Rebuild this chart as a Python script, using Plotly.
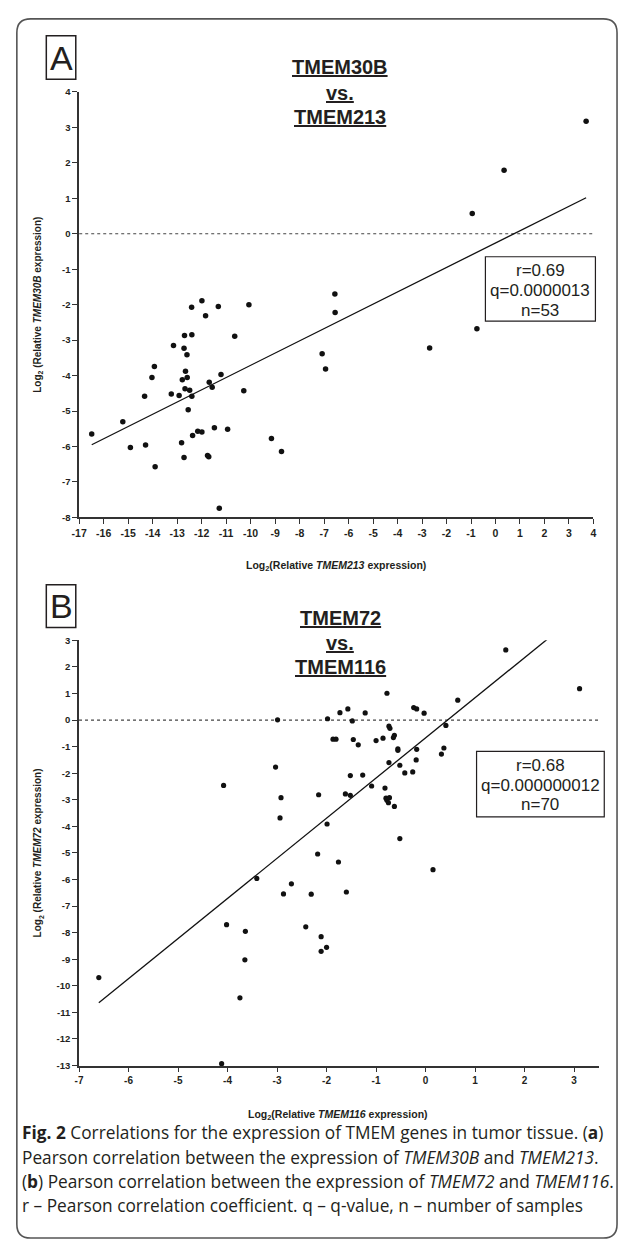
import plotly.graph_objects as go

# ---------------- data ----------------
# Panel A: TMEM213 (x) vs TMEM30B (y), log2 relative expression
a_x = [-16.49, -15.22, -14.91, -14.33, -14.29, -14.03, -13.93, -13.90, -13.24, -13.15,
       -12.92, -12.79, -12.82, -12.72, -12.72, -12.70, -12.68, -12.66, -12.60, -12.59,
       -12.55, -12.49, -12.41, -12.40, -12.40, -12.37, -12.16, -11.99, -11.99, -11.84,
       -11.76, -11.71, -11.69, -11.57, -11.48, -11.32, -11.28, -11.21, -10.94, -10.65,
       -10.28, -10.07, -9.15, -8.74,
       0.35, -0.95, -6.56, -6.55, -0.76, -2.69, -7.08, -6.94, 3.70]
a_y = [-5.65, -5.30, -6.03, -4.58, -5.96, -4.05, -3.74, -6.57, -4.52, -3.15,
       -4.56, -4.12, -5.89, -3.23, -6.31, -2.87, -4.37, -3.88, -3.41, -4.05,
       -4.96, -4.41, -2.07, -2.85, -4.58, -5.69, -5.57, -1.89, -5.59, -2.31,
       -6.25, -6.29, -4.19, -4.33, -5.47, -2.05, -7.74, -3.97, -5.51, -2.89,
       -4.43, -2.00, -5.77, -6.14,
       1.79, 0.57, -1.70, -2.22, -2.68, -3.22, -3.38, -3.81, 3.17]
a_fit_slope = 0.345
a_fit_intercept = -0.26
a_stats = ["r=0.69", "q=0.0000013", "n=53"]
a_xticks = list(range(-17, 5))
a_yticks = list(range(-8, 5))

# Panel B: TMEM116 (x) vs TMEM72 (y), log2 relative expression
b_x = [-6.60, -4.08, -4.02, -3.75, -3.64, -3.65, -3.41, -3.03, -2.99, -2.92,
       -2.94, -2.87, -2.71, -2.31, -2.42, -2.18, -2.16, -2.11, -2.11,
       1.62, 3.11, -0.78, 0.65, -0.24, -0.18, -0.03, -1.57, -1.73, -1.22,
       -1.98, -1.48, -0.74, -0.72, 0.41, -0.63, -0.65, -1.87, -1.81, -1.46,
       -1.36, -1.00, -0.86, -0.56, -0.56, -0.18, 0.37, 0.32, -0.19, -0.74,
       -0.52, -0.26, -0.42, -1.52, -1.27, -1.09, -0.82, -1.62, -1.52, -0.80,
       -0.73, -0.78, -0.75, -0.63, -1.99, -0.52, -1.76, 0.15, -1.60,
       -4.12, -2.00]
b_y = [-9.69, -2.46, -7.70, -10.45, -7.95, -9.02, -5.96, -1.77, 0.01, -2.92,
       -3.68, -6.54, -6.16, -6.55, -7.78, -5.04, -2.81, -8.15, -8.70,
       2.64, 1.18, 1.01, 0.75, 0.47, 0.42, 0.26, 0.42, 0.28, 0.27,
       0.05, -0.03, -0.23, -0.31, -0.20, -0.57, -0.66, -0.72, -0.72, -0.73,
       -0.93, -0.77, -0.68, -1.08, -1.14, -1.10, -1.05, -1.28, -1.50, -1.60,
       -1.70, -1.95, -1.99, -2.09, -2.07, -2.48, -2.56, -2.78, -2.83, -2.94,
       -2.92, -3.02, -3.11, -3.25, -3.91, -4.46, -5.34, -5.63, -6.47,
       -12.93, -8.55]
b_fit_slope = 1.51
b_fit_intercept = -0.67
b_stats = ["r=0.68", "q=0.000000012", "n=70"]
b_xticks = list(range(-7, 4))
b_yticks = list(range(-13, 4))

a_title = ["TMEM30B", "vs.", "TMEM213"]
b_title = ["TMEM72", "vs.", "TMEM116"]
a_xtitle = "Log<sub>2</sub>(Relative <i>TMEM213</i> expression)"
a_ytitle = "Log<sub>2</sub> (Relative <i>TMEM30B</i> expression)"
b_xtitle = "Log<sub>2</sub>(Relative <i>TMEM116</i> expression)"
b_ytitle = "Log<sub>2</sub> (Relative <i>TMEM72</i> expression)"
caption = [
    "<b>Fig. 2</b> Correlations for the expression of TMEM genes in tumor tissue. (<b>a</b>)",
    "Pearson correlation between the expression of <i>TMEM30B</i> and <i>TMEM213</i>.",
    "(<b>b</b>) Pearson correlation between the expression of <i>TMEM72</i> and <i>TMEM116</i>.",
    "r \u2013 Pearson correlation coefficient. q \u2013 q-value, n \u2013 number of samples",
]

def labels(vals):
    # hyphen-minus, as in the reference
    return [str(v) for v in vals]

# ---------------- layout helpers ----------------
W, H = 622, 1247
def fx(px):
    return px / W
def fy(py):
    return 1 - py / H

ARIAL = "Liberation Sans, Arial, sans-serif"
INK = "#231f20"

fig = go.Figure()

# fit lines (drawn across the data range)
ax0, ax1 = min(a_x), max(a_x)
fig.add_trace(go.Scatter(x=[ax0, ax1], y=[a_fit_slope * ax0 + a_fit_intercept, a_fit_slope * ax1 + a_fit_intercept],
                         mode="lines", line=dict(color="#111", width=1.3), xaxis="x", yaxis="y",
                         showlegend=False, hoverinfo="skip"))
bx0, bx1 = min(b_x), max(b_x)
fig.add_trace(go.Scatter(x=[bx0, bx1], y=[b_fit_slope * bx0 + b_fit_intercept, b_fit_slope * bx1 + b_fit_intercept],
                         mode="lines", line=dict(color="#111", width=1.3), xaxis="x2", yaxis="y2",
                         showlegend=False, hoverinfo="skip"))

fig.add_trace(go.Scatter(x=a_x, y=a_y, mode="markers", marker=dict(color="#111", size=5.5),
                         xaxis="x", yaxis="y", showlegend=False, cliponaxis=False))
fig.add_trace(go.Scatter(x=b_x, y=b_y, mode="markers", marker=dict(color="#111", size=5.2),
                         xaxis="x2", yaxis="y2", showlegend=False, cliponaxis=False))

axis_common = dict(showline=True, linecolor="#333", linewidth=1.6, ticks="outside", ticklen=5,
                   tickwidth=1.3, tickcolor="#333", showgrid=False, zeroline=False,
                   tickmode="array", mirror=False)
xfont = dict(family=ARIAL, size=10.5, color=INK, weight="bold")
yfont = dict(family=ARIAL, size=9.5, color=INK, weight="bold")

fig.update_layout(
    width=W, height=H, margin=dict(l=0, r=0, t=0, b=0),
    paper_bgcolor="white", plot_bgcolor="white",
    xaxis=dict(domain=[fx(72.5), fx(596)], range=[-17, 4], anchor="y",
               tickvals=a_xticks, ticktext=labels(a_xticks), tickfont=xfont, **axis_common),
    yaxis=dict(domain=[fy(516), fy(86.7)], range=[-8, 4], anchor="x",
               tickvals=a_yticks, ticktext=labels(a_yticks), tickfont=yfont, **axis_common),
    xaxis2=dict(domain=[fx(72.3), fx(601.5)], range=[-7, 3.5], anchor="y2",
                tickvals=b_xticks, ticktext=labels(b_xticks),
                tickfont=dict(family=ARIAL, size=10, color=INK, weight="bold"), **axis_common),
    yaxis2=dict(domain=[fy(1069), fy(640)], range=[-13, 3], anchor="x2",
                tickvals=b_yticks, ticktext=labels(b_yticks), tickfont=yfont, **axis_common),
)

shapes = []
# dotted zero lines
for xr, yr in (("x domain", "y"), ("x2 domain", "y2")):
    shapes.append(dict(type="line", xref=xr, yref=yr, x0=0, x1=1, y0=0, y1=0,
                       line=dict(color="#444", width=1.1, dash="dot"), layer="below"))

# outer rounded frame
l, r, t, b, rad = 9, 620, 13, 1243, 14
path = (f"M {fx(l+rad)},{fy(t)} L {fx(r-rad)},{fy(t)} Q {fx(r)},{fy(t)} {fx(r)},{fy(t+rad)} "
        f"L {fx(r)},{fy(b-rad)} Q {fx(r)},{fy(b)} {fx(r-rad)},{fy(b)} "
        f"L {fx(l+rad)},{fy(b)} Q {fx(l)},{fy(b)} {fx(l)},{fy(b-rad)} "
        f"L {fx(l)},{fy(t+rad)} Q {fx(l)},{fy(t)} {fx(l+rad)},{fy(t)} Z")
shapes.append(dict(type="path", xref="paper", yref="paper", path=path,
                   line=dict(color="#555", width=1.6)))

# panel letter boxes
for (x0, y0, x1, y1) in ((39, 30, 69, 74), (39, 584, 69, 627)):
    shapes.append(dict(type="rect", xref="paper", yref="paper", x0=fx(x0), x1=fx(x1),
                       y0=fy(y1), y1=fy(y0), line=dict(color=INK, width=1.5)))
# stats boxes
for (x0, y0, x1, y1) in ((486, 253, 598, 318), (477, 752, 607, 818)):
    shapes.append(dict(type="rect", xref="paper", yref="paper", x0=fx(x0), x1=fx(x1),
                       y0=fy(y1), y1=fy(y0), line=dict(color=INK, width=1.2),
                       fillcolor="white", layer="above"))
fig.update_layout(shapes=shapes)

ann = []
def add(text, px, py, size, xanchor="center", angle=0, weight="normal", family=ARIAL,
        underline=False, color=INK):
    f = dict(family=family, size=size, color=color, weight=weight)
    if underline:
        f["lineposition"] = "under"
    ann.append(dict(text=text, x=fx(px), y=fy(py), xref="paper", yref="paper",
                    xanchor=xanchor, yanchor="middle", showarrow=False, textangle=angle,
                    font=f))

add("A", 54, 52, 34)
add("B", 54, 605.5, 34)
for txt, py in zip(a_title, (62, 88, 112)):
    add(txt, 338, py, 20, weight="bold", underline=True)
for txt, py in zip(b_title, (617, 643, 667)):
    add(txt, 338, py, 20, weight="bold", underline=True)
for txt, py in zip(a_stats, (267, 287, 307)):
    add(txt, 542, py, 17)
for txt, py in zip(b_stats, (766, 786.5, 806)):
    add(txt, 542, py, 17)
add(a_xtitle, 334, 565, 10.5, weight="bold")
add(b_xtitle, 336, 1119, 10.5, weight="bold")
add(a_ytitle, 31, 301, 10, angle=-90, weight="bold")
add(b_ytitle, 31, 854.5, 10, angle=-90, weight="bold")
for txt, py in zip(caption, (1137, 1161.5, 1186, 1210.5)):
    add(txt, 12, py, 17.3, xanchor="left", family="Open Sans, sans-serif")
fig.update_layout(annotations=ann)

fig.write_html("out.html")
